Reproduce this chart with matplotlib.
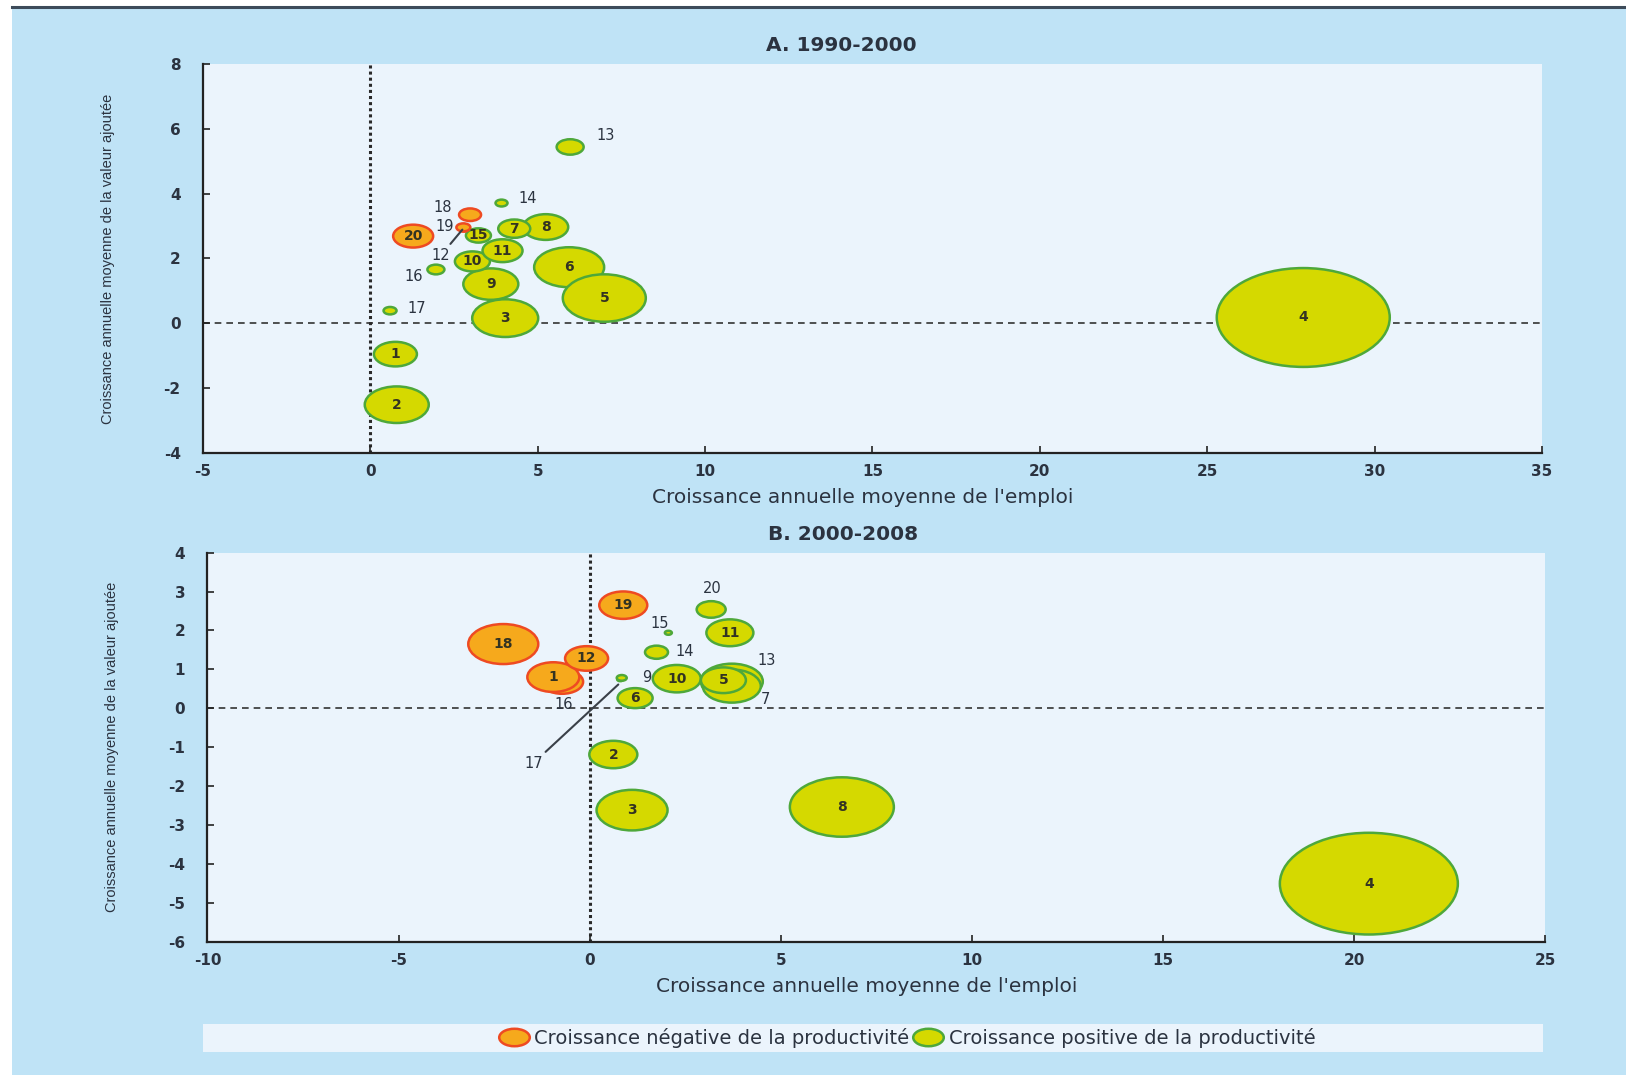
"""Bubble charts: value-added growth vs employment growth, two periods."""
import matplotlib
matplotlib.use("Agg")
import matplotlib.pyplot as plt
import numpy as np
from matplotlib.path import Path
from matplotlib.patches import Rectangle
from matplotlib.lines import Line2D

plt.rcParams["axes.unicode_minus"] = False

# ---- panel A, 1990-2000 (list order = drawing order) ----
a_id   = [4, 2, 1, 17, 3, 9, 6, 5, 16, 10, 11, 8, 7, 15, 12, 19, 18, 20, 14, 13]
a_emp  = [27.87, 0.79, 0.75, 0.59, 4.03, 3.60, 5.94, 6.99, 1.96, 3.05, 3.95, 5.24, 4.30, 3.23, 2.80, 2.78, 2.98, 1.28, 3.92, 5.97]
a_va   = [0.18, -2.51, -0.95, 0.39, 0.16, 1.21, 1.73, 0.78, 1.66, 1.91, 2.24, 2.97, 2.92, 2.71, 2.90, 2.96, 3.35, 2.69, 3.71, 5.44]
a_size = [173, 64, 43, 13, 66, 55, 70, 83, 17, 35, 40, 45, 32, 25, 8, 14, 22, 40, 12, 27]
a_neg  = [0, 0, 0, 0, 0, 0, 0, 0, 0, 0, 0, 0, 0, 0, 1, 1, 1, 1, 0, 0]
a_inside = [4, 2, 1, 3, 9, 6, 5, 10, 11, 8, 7, 15, 20]
a_outside = {13: (7.03, 5.80), 14: (4.70, 3.85), 18: (2.16, 3.58), 19: (2.21, 2.99),
             16: (1.31, 1.45), 17: (1.38, 0.47)}
a_leader = {12: ((2.75, 2.89), (2.11, 2.10))}

# ---- panel B, 2000-2008 ----
b_id   = [4, 8, 3, 2, 18, 16, 1, 12, 19, 6, 17, 9, 13, 7, 10, 5, 14, 15, 11, 20]
b_emp  = [20.39, 6.60, 1.11, 0.62, -2.26, -0.72, -0.95, -0.08, 0.88, 1.19, 0.80, 0.84, 3.72, 3.72, 2.28, 3.50, 1.75, 2.06, 3.67, 3.18]
b_va   = [-4.51, -2.54, -2.62, -1.19, 1.65, 0.68, 0.80, 1.28, 2.65, 0.26, 0.74, 0.78, 0.69, 0.57, 0.76, 0.72, 1.44, 1.94, 1.94, 2.54]
b_size = [178, 104, 71, 48, 70, 42, 52, 43, 48, 35, 6, 10, 62, 58, 48, 45, 23, 7, 47, 29]
b_neg  = [0, 0, 0, 0, 1, 1, 1, 1, 1, 0, 0, 0, 0, 0, 0, 0, 0, 0, 0, 0]
b_inside = [4, 8, 3, 2, 18, 1, 12, 19, 6, 10, 5, 11]
b_outside = {20: (3.21, 3.09), 15: (1.84, 2.19), 14: (2.49, 1.47), 13: (4.63, 1.23),
             9: (1.49, 0.78), 7: (4.59, 0.22), 16: (-0.69, 0.10)}
b_leader = {17: ((0.75, 0.61), (-1.47, -1.41))}

legend_labels = ["Croissance négative de la productivité",
                 "Croissance positive de la productivité"]

NEG_FC, NEG_EC = "#f6a91c", "#ee4a22"
POS_FC, POS_EC = "#d5d900", "#4ea83a"
BG, PLOT_BG = "#bfe3f6", "#ebf4fc"
INK = "#2b3340"

circ = Path.unit_circle()
ell = Path(circ.vertices * np.array([1.75, 1.0]), circ.codes)  # stretched bubbles

fig = plt.figure(figsize=(16.26, 10.75), dpi=100)
fig.patch.set_facecolor("white")
fig.add_artist(Rectangle((12 / 1626, 0), 1, 1 - 8 / 1075, transform=fig.transFigure,
                         facecolor=BG, edgecolor="none", zorder=-10))
fig.add_artist(Line2D([12 / 1626, 1], [1 - 7 / 1075] * 2, transform=fig.transFigure,
                      color="#3d4b5a", lw=2.2))
fig.add_artist(Rectangle((0.1249, 0.0214), 0.824, 0.026, transform=fig.transFigure,
                         facecolor=PLOT_BG, edgecolor="none"))


def panel(ax, ids, emp, va, size, neg, inside, outside, leader, xlim, ylim, xt, yt, title, tx):
    ax.set_facecolor(PLOT_BG)
    fc = [NEG_FC if n else POS_FC for n in neg]
    ec = [NEG_EC if n else POS_EC for n in neg]
    s = (0.72 * np.array(size)) ** 2
    ax.axhline(0, color="#333333", lw=1.2, ls=(0, (4, 3)), zorder=1)
    ax.axvline(0, color="#2a2a2a", lw=2.2, ls=(0, (1, 1)), zorder=1)
    ax.scatter(emp, va, s=s, marker=ell, c=fc, edgecolors=ec, linewidths=1.8, zorder=3)
    for i, x, y in zip(ids, emp, va):
        if i in inside:
            ax.text(x, y, str(i), ha="center", va="center", fontsize=10,
                    fontweight="bold", color="#333322", zorder=5)
    for i, (x, y) in outside.items():
        ax.text(x, y, str(i), ha="center", va="center", fontsize=10.5, color=INK, zorder=5)
    for i, (xy, xyt) in leader.items():
        ax.annotate(str(i), xy=xy, xytext=xyt, ha="center", va="center", fontsize=10.5,
                    color=INK, zorder=5,
                    arrowprops=dict(arrowstyle="-", color="#3a4048", lw=1.5, shrinkA=1, shrinkB=0))
    ax.set_xlim(*xlim); ax.set_ylim(*ylim)
    ax.set_xticks(xt); ax.set_yticks(yt)
    for sp in ["top", "right"]:
        ax.spines[sp].set_visible(False)
    for sp in ["left", "bottom"]:
        ax.spines[sp].set_color("#222222"); ax.spines[sp].set_linewidth(1.6)
    ax.tick_params(direction="in", length=5, width=1.2, colors="#222222",
                   labelcolor=INK, labelsize=11)
    ax.tick_params(axis="y", pad=16)
    ax.tick_params(axis="x", pad=8)
    for lab in ax.get_xticklabels() + ax.get_yticklabels():
        lab.set_fontweight("bold")
    ax.set_title(title, x=tx, fontsize=14.5, fontweight="bold", color=INK, pad=9)
    ax.set_xlabel("Croissance annuelle moyenne de l'emploi", fontsize=14.5, color=INK)
    ax.xaxis.set_label_coords(0.493, -0.09)
    ax.set_ylabel("Croissance annuelle moyenne de la valeur ajoutée", fontsize=10.5,
                  color=INK, family=["Liberation Sans", "DejaVu Sans"])
    ax.yaxis.set_label_coords(-0.066, 0.5)


ax1 = fig.add_axes([0.1248, 0.5786, 0.8235, 0.3619])
panel(ax1, a_id, a_emp, a_va, a_size, a_neg, a_inside, a_outside, a_leader,
      (-5, 35), (-4, 8), np.arange(-5, 36, 5), np.arange(-4, 9, 2), "A. 1990-2000", 0.477)

ax2 = fig.add_axes([0.1276, 0.1241, 0.8226, 0.3618])
panel(ax2, b_id, b_emp, b_va, b_size, b_neg, b_inside, b_outside, b_leader,
      (-10, 25), (-6, 4), np.arange(-10, 26, 5), np.arange(-6, 5, 1), "B. 2000-2008", 0.475)

handles = [Line2D([], [], marker=ell, ls="none", markersize=22, mfc=NEG_FC, mec=NEG_EC, mew=1.8),
           Line2D([], [], marker=ell, ls="none", markersize=22, mfc=POS_FC, mec=POS_EC, mew=1.8)]
fig.legend(handles, legend_labels, loc="center", bbox_to_anchor=(0.558, 0.0345), ncol=2,
           frameon=False, fontsize=14, handlelength=1.5, handletextpad=0.3,
           columnspacing=0.2, labelcolor=INK)

fig.savefig("out.png", dpi=100, facecolor=fig.get_facecolor())
print("saved out.png")
